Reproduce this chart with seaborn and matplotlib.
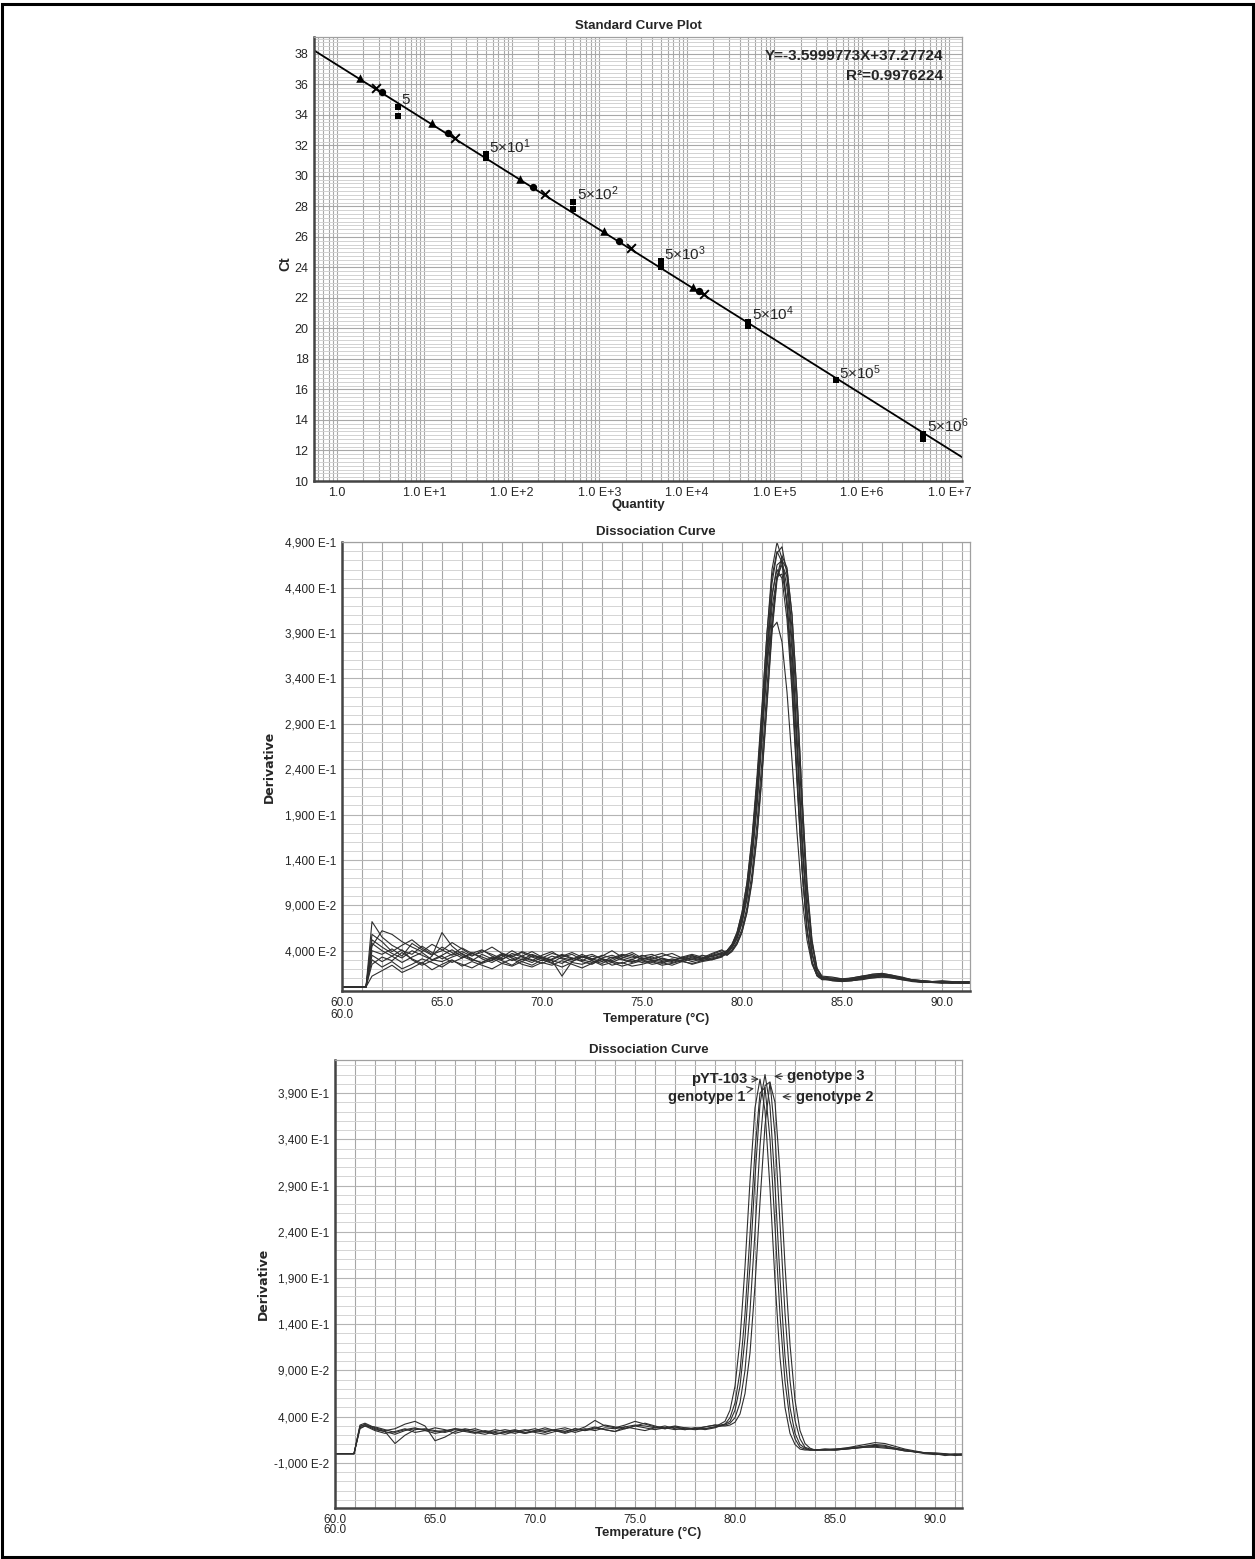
import numpy as np
import pandas as pd
import matplotlib
matplotlib.use("Agg")
import matplotlib.pyplot as plt
import seaborn as sns
from matplotlib.ticker import FixedLocator, FixedFormatter, MultipleLocator, LogLocator, NullFormatter
from matplotlib.patches import Rectangle

# ---------------- standard curve ----------------
std_qty = [5, 5, 50, 50, 500, 500, 5e3, 5e3, 5e4, 5e4, 5e5, 5e6, 5e6]
std_ct = [34.5, 33.9, 31.4, 31.15, 28.3, 27.8, 24.4, 24.0, 20.45, 20.15, 16.6, 13.1, 12.75]
std_label_qty = [5, 50, 500, 5e3, 5e4, 5e5, 5e6]
std_label_ct = [34.5, 31.4, 28.3, 24.4, 20.45, 16.6, 13.1]
std_labels = ['5', '5×10$^{1}$', '5×10$^{2}$', '5×10$^{3}$', '5×10$^{4}$', '5×10$^{5}$', '5×10$^{6}$']

tri_qty = [1.83, 12.3, 124, 1135, 11600]
tri_ct = [36.42, 33.44, 29.81, 26.37, 22.71]
circ_qty = [3.30, 18.4, 175, 1683, 13700]
circ_ct = [35.5, 32.8, 29.27, 25.73, 22.45]
cross_qty = [2.77, 22.3, 240, 2275, 15670]
cross_ct = [35.74, 32.5, 28.79, 25.27, 22.27]

fit_slope = -3.5999773
fit_intercept = 37.27724
fit_r2 = 0.9976224

qty_ticks = [1, 10, 100, 1e3, 1e4, 1e5, 1e6, 1e7]
qty_tick_labels = ['1.0', '1.0 E+1', '1.0 E+2', '1.0 E+3', '1.0 E+4', '1.0 E+5', '1.0 E+6', '1.0 E+7']

# ---------------- melt curves ----------------
temp_ticks = [60, 65, 70, 75, 80, 85, 90]
temp_tick_labels = ['60.0', '65.0', '70.0', '75.0', '80.0', '85.0', '90.0']
deriv1_ticks = [0.49, 0.44, 0.39, 0.34, 0.29, 0.24, 0.19, 0.14, 0.09, 0.04]
deriv1_labels = ['4,900 E-1', '4,400 E-1', '3,900 E-1', '3,400 E-1', '2,900 E-1',
                 '2,400 E-1', '1,900 E-1', '1,400 E-1', '9,000 E-2', '4,000 E-2']
deriv2_ticks = [0.39, 0.34, 0.29, 0.24, 0.19, 0.14, 0.09, 0.04, -0.01]
deriv2_labels = ['3,900 E-1', '3,400 E-1', '2,900 E-1', '2,400 E-1', '1,900 E-1',
                 '1,400 E-1', '9,000 E-2', '4,000 E-2', '-1,000 E-2']

# instrument temperature steps
base_temps = list(np.arange(61.5, 79.01, 0.5))
peak_temps = list(np.arange(79.25, 84.01, 0.25))
tail_temps = list(np.arange(84.5, 91.51, 0.5))
run1_temps = [60.0, 61.2] + base_temps + peak_temps + tail_temps
run2_temps = [60.0, 60.95, 61.25] + base_temps + peak_temps + tail_temps

# run 1 : all standards
well_a1 = [0.0, 0.0,
           0.072, 0.055, 0.046, 0.040, 0.036, 0.045, 0.038, 0.031, 0.036, 0.043, 0.037, 0.033,
           0.029, 0.036, 0.032, 0.028, 0.034, 0.031, 0.027, 0.033, 0.036, 0.030, 0.027, 0.032,
           0.035, 0.031, 0.028, 0.030, 0.033, 0.029, 0.027, 0.030, 0.032, 0.030, 0.034, 0.036,
           0.038, 0.044, 0.054, 0.072, 0.100, 0.145, 0.205, 0.280, 0.360, 0.430,
           0.465, 0.470, 0.440, 0.370, 0.270, 0.165, 0.085, 0.038, 0.016, 0.010,
           0.008, 0.007, 0.008, 0.010, 0.012, 0.013, 0.011, 0.009, 0.007, 0.006, 0.006, 0.005, 0.006, 0.005, 0.005]
well_a2 = [0.0, 0.0,
           0.045, 0.062, 0.058, 0.050, 0.044, 0.039, 0.047, 0.041, 0.035, 0.039, 0.034, 0.040,
           0.036, 0.031, 0.035, 0.038, 0.033, 0.029, 0.034, 0.031, 0.028, 0.033, 0.036, 0.031,
           0.029, 0.034, 0.038, 0.032, 0.029, 0.031, 0.028, 0.033, 0.030, 0.035, 0.033, 0.038,
           0.040, 0.047, 0.060, 0.082, 0.115, 0.165, 0.232, 0.310, 0.390, 0.452,
           0.480, 0.468, 0.420, 0.340, 0.235, 0.135, 0.065, 0.028, 0.013, 0.009,
           0.009, 0.008, 0.009, 0.011, 0.014, 0.015, 0.013, 0.010, 0.008, 0.007, 0.006, 0.006, 0.005, 0.006, 0.006]
well_a3 = [0.0, 0.0,
           0.030, 0.022, 0.028, 0.020, 0.025, 0.031, 0.027, 0.022, 0.029, 0.025, 0.021, 0.027,
           0.032, 0.026, 0.023, 0.028, 0.024, 0.030, 0.026, 0.022, 0.027, 0.025, 0.029, 0.024,
           0.027, 0.023, 0.026, 0.029, 0.025, 0.027, 0.024, 0.028, 0.026, 0.029, 0.031, 0.034,
           0.036, 0.041, 0.050, 0.064, 0.088, 0.126, 0.180, 0.250, 0.330, 0.405,
           0.452, 0.465, 0.452, 0.395, 0.300, 0.192, 0.100, 0.046, 0.019, 0.011,
           0.007, 0.006, 0.007, 0.009, 0.010, 0.011, 0.010, 0.008, 0.006, 0.005, 0.005, 0.004, 0.005, 0.004, 0.004]
well_a4 = [0.0, 0.0,
           0.040, 0.036, 0.042, 0.034, 0.048, 0.041, 0.035, 0.044, 0.038, 0.032, 0.037, 0.041,
           0.034, 0.030, 0.037, 0.033, 0.029, 0.035, 0.039, 0.032, 0.030, 0.036, 0.031, 0.034,
           0.040, 0.033, 0.030, 0.035, 0.031, 0.034, 0.037, 0.032, 0.035, 0.031, 0.036, 0.040,
           0.039, 0.046, 0.058, 0.078, 0.110, 0.158, 0.225, 0.305, 0.390, 0.460,
           0.490, 0.472, 0.420, 0.335, 0.230, 0.130, 0.062, 0.027, 0.012, 0.008,
           0.008, 0.008, 0.010, 0.012, 0.013, 0.012, 0.010, 0.008, 0.007, 0.006, 0.005, 0.005, 0.004, 0.005, 0.004]
well_a5 = [0.0, 0.0,
           0.012, 0.018, 0.024, 0.016, 0.021, 0.027, 0.019, 0.025, 0.030, 0.023, 0.028, 0.024,
           0.020, 0.026, 0.031, 0.025, 0.022, 0.027, 0.024, 0.029, 0.025, 0.021, 0.026, 0.030,
           0.024, 0.027, 0.023, 0.025, 0.028, 0.024, 0.026, 0.029, 0.025, 0.028, 0.030, 0.033,
           0.040, 0.047, 0.060, 0.082, 0.115, 0.162, 0.225, 0.295, 0.360, 0.395,
           0.402, 0.380, 0.325, 0.250, 0.170, 0.100, 0.052, 0.025, 0.013, 0.009,
           0.007, 0.006, 0.007, 0.008, 0.010, 0.011, 0.011, 0.009, 0.007, 0.006, 0.005, 0.005, 0.005, 0.004, 0.005]
well_a6 = [0.0, 0.0,
           0.058, 0.050, 0.039, 0.046, 0.052, 0.043, 0.036, 0.040, 0.049, 0.042, 0.035, 0.038,
           0.044, 0.037, 0.033, 0.039, 0.035, 0.032, 0.037, 0.034, 0.038, 0.033, 0.030, 0.035,
           0.032, 0.036, 0.034, 0.031, 0.034, 0.037, 0.033, 0.031, 0.034, 0.032, 0.037, 0.041,
           0.035, 0.040, 0.048, 0.061, 0.083, 0.118, 0.168, 0.235, 0.315, 0.395,
           0.452, 0.475, 0.462, 0.410, 0.320, 0.210, 0.110, 0.050, 0.020, 0.011,
           0.010, 0.009, 0.009, 0.010, 0.012, 0.014, 0.012, 0.010, 0.008, 0.007, 0.006, 0.007, 0.006, 0.006, 0.005]
well_a7 = [0.0, 0.0,
           0.025, 0.033, 0.029, 0.038, 0.031, 0.026, 0.034, 0.060, 0.045, 0.036, 0.030, 0.027,
           0.033, 0.029, 0.024, 0.031, 0.027, 0.033, 0.029, 0.026, 0.032, 0.028, 0.025, 0.031,
           0.028, 0.026, 0.030, 0.027, 0.029, 0.026, 0.030, 0.028, 0.031, 0.029, 0.032, 0.035,
           0.037, 0.043, 0.053, 0.070, 0.097, 0.140, 0.198, 0.272, 0.350, 0.418,
           0.452, 0.455, 0.425, 0.355, 0.260, 0.158, 0.080, 0.036, 0.015, 0.009,
           0.008, 0.007, 0.008, 0.011, 0.013, 0.014, 0.012, 0.009, 0.007, 0.005, 0.006, 0.005, 0.004, 0.005, 0.004]
well_a8 = [0.0, 0.0,
           0.048, 0.040, 0.034, 0.027, 0.033, 0.038, 0.030, 0.035, 0.041, 0.034, 0.029, 0.036,
           0.031, 0.037, 0.034, 0.030, 0.036, 0.032, 0.029, 0.012, 0.028, 0.034, 0.031, 0.028,
           0.033, 0.030, 0.027, 0.032, 0.030, 0.028, 0.031, 0.029, 0.033, 0.031, 0.034, 0.037,
           0.038, 0.045, 0.056, 0.075, 0.105, 0.152, 0.215, 0.293, 0.375, 0.445,
           0.478, 0.485, 0.455, 0.380, 0.275, 0.165, 0.083, 0.037, 0.016, 0.010,
           0.009, 0.008, 0.008, 0.009, 0.011, 0.012, 0.011, 0.009, 0.008, 0.006, 0.006, 0.005, 0.005, 0.005, 0.004]
well_a9 = [0.0, 0.0,
           0.035, 0.028, 0.034, 0.041, 0.030, 0.024, 0.029, 0.034, 0.027, 0.032, 0.038, 0.031,
           0.027, 0.033, 0.040, 0.034, 0.030, 0.026, 0.031, 0.036, 0.032, 0.029, 0.034, 0.031,
           0.027, 0.032, 0.036, 0.030, 0.027, 0.032, 0.029, 0.032, 0.028, 0.031, 0.035, 0.038,
           0.035, 0.039, 0.047, 0.060, 0.082, 0.115, 0.165, 0.232, 0.310, 0.390,
           0.448, 0.470, 0.460, 0.410, 0.322, 0.212, 0.115, 0.052, 0.021, 0.012,
           0.011, 0.009, 0.010, 0.012, 0.014, 0.015, 0.013, 0.011, 0.008, 0.007, 0.006, 0.006, 0.006, 0.005, 0.006]
well_a10 = [0.0, 0.0,
            0.052, 0.044, 0.037, 0.032, 0.040, 0.035, 0.030, 0.028, 0.033, 0.037, 0.031, 0.026,
            0.030, 0.035, 0.029, 0.034, 0.039, 0.033, 0.030, 0.035, 0.031, 0.034, 0.029, 0.026,
            0.031, 0.035, 0.032, 0.034, 0.036, 0.031, 0.029, 0.033, 0.036, 0.033, 0.030, 0.034,
            0.040, 0.046, 0.057, 0.076, 0.106, 0.152, 0.214, 0.290, 0.370, 0.432,
            0.460, 0.450, 0.405, 0.325, 0.225, 0.130, 0.063, 0.028, 0.013, 0.009,
            0.008, 0.007, 0.007, 0.009, 0.011, 0.013, 0.012, 0.010, 0.007, 0.006, 0.005, 0.006, 0.005, 0.004, 0.005]

# run 2 : plasmid and genotypes
well_b1 = [0.0, 0.0,
           0.030, 0.031, 0.026, 0.024, 0.021, 0.025, 0.027, 0.026, 0.024, 0.025, 0.027, 0.026, 0.023,
           0.024, 0.021, 0.023, 0.025, 0.022, 0.024, 0.026, 0.025, 0.022, 0.025, 0.027, 0.025, 0.028,
           0.027, 0.029, 0.031, 0.030, 0.028, 0.027, 0.029, 0.027, 0.026, 0.027, 0.029,
           0.032, 0.035, 0.047, 0.073, 0.123, 0.202, 0.295, 0.374, 0.405, 0.371,
           0.287, 0.187, 0.104, 0.050, 0.022, 0.010, 0.005, 0.004, 0.004, 0.004,
           0.004, 0.004, 0.005, 0.006, 0.007, 0.008, 0.007, 0.005, 0.003, 0.002, 0.001, 0.000, -0.001, 0.000, -0.001]
well_b2 = [0.0, 0.0,
           0.029, 0.032, 0.027, 0.024, 0.011, 0.020, 0.026, 0.027, 0.025, 0.023, 0.026, 0.024, 0.022,
           0.025, 0.023, 0.021, 0.024, 0.026, 0.023, 0.021, 0.024, 0.026, 0.023, 0.026, 0.029, 0.026,
           0.024, 0.027, 0.030, 0.028, 0.026, 0.028, 0.026, 0.028, 0.027, 0.029, 0.031,
           0.031, 0.032, 0.039, 0.055, 0.089, 0.151, 0.237, 0.328, 0.390, 0.396,
           0.340, 0.246, 0.150, 0.078, 0.036, 0.016, 0.007, 0.005, 0.004, 0.004,
           0.005, 0.004, 0.005, 0.006, 0.008, 0.010, 0.009, 0.006, 0.004, 0.002, 0.001, 0.001, 0.000, -0.001, 0.000]
well_b3 = [0.0, 0.0,
           0.031, 0.033, 0.028, 0.025, 0.027, 0.032, 0.035, 0.030, 0.014, 0.018, 0.024, 0.027, 0.025,
           0.023, 0.026, 0.024, 0.022, 0.025, 0.027, 0.024, 0.026, 0.028, 0.025, 0.029, 0.036, 0.030,
           0.028, 0.031, 0.035, 0.032, 0.029, 0.028, 0.030, 0.028, 0.027, 0.029, 0.031,
           0.030, 0.032, 0.035, 0.047, 0.073, 0.125, 0.204, 0.299, 0.378, 0.410,
           0.376, 0.291, 0.190, 0.105, 0.050, 0.022, 0.010, 0.006, 0.004, 0.004,
           0.004, 0.005, 0.006, 0.008, 0.010, 0.012, 0.011, 0.008, 0.005, 0.003, 0.001, 0.000, -0.001, -0.001, 0.000]
well_b4 = [0.0, 0.0,
           0.028, 0.030, 0.025, 0.022, 0.024, 0.027, 0.023, 0.025, 0.028, 0.026, 0.022, 0.025, 0.027,
           0.024, 0.021, 0.024, 0.026, 0.023, 0.025, 0.028, 0.025, 0.023, 0.027, 0.025, 0.028, 0.026,
           0.024, 0.029, 0.027, 0.025, 0.028, 0.030, 0.027, 0.026, 0.028, 0.027, 0.029,
           0.030, 0.031, 0.033, 0.039, 0.055, 0.090, 0.154, 0.240, 0.333, 0.398,
           0.402, 0.344, 0.249, 0.152, 0.079, 0.036, 0.016, 0.007, 0.005, 0.004,
           0.005, 0.005, 0.006, 0.007, 0.008, 0.009, 0.008, 0.006, 0.004, 0.002, 0.000, -0.001, 0.000, -0.002, -0.001]
well_b5 = [0.0, 0.0,
           0.027, 0.030, 0.029, 0.026, 0.023, 0.026, 0.028, 0.025, 0.022, 0.024, 0.027, 0.025, 0.023,
           0.021, 0.024, 0.026, 0.024, 0.022, 0.025, 0.023, 0.026, 0.024, 0.027, 0.025, 0.027, 0.031,
           0.029, 0.027, 0.030, 0.033, 0.030, 0.027, 0.029, 0.026, 0.028, 0.026, 0.028,
           0.030, 0.030, 0.031, 0.034, 0.043, 0.065, 0.109, 0.182, 0.272, 0.355,
           0.401, 0.380, 0.304, 0.204, 0.118, 0.058, 0.025, 0.011, 0.006, 0.004,
           0.004, 0.004, 0.005, 0.006, 0.007, 0.007, 0.006, 0.005, 0.003, 0.002, 0.001, 0.000, -0.002, -0.001, -0.002]

run1_wells = {'A1': well_a1, 'A2': well_a2, 'A3': well_a3, 'A4': well_a4, 'A5': well_a5,
              'A6': well_a6, 'A7': well_a7, 'A8': well_a8, 'A9': well_a9, 'A10': well_a10}
run2_wells = {'pYT-103': well_b3, 'genotype 1': well_b2, 'genotype 3': well_b4,
              'genotype 2': well_b5, 'B1': well_b1}

W, H = 1255, 1559


def melt_frame(temps, wells):
    rows = []
    for name, values in wells.items():
        for t, v in zip(temps, values):
            rows.append((name, t, v))
    return pd.DataFrame(rows, columns=['well', 'temp', 'deriv'])


def px_axes(fig, left, top, right, bottom):
    return fig.add_axes([left / W, 1 - bottom / H, (right - left) / W, (bottom - top) / H])


def style_spines(ax):
    for side in ['left', 'bottom']:
        ax.spines[side].set_color('#444444')
        ax.spines[side].set_linewidth(1.8)
    for side in ['top', 'right']:
        ax.spines[side].set_color('#a0a0a0')
        ax.spines[side].set_linewidth(0.9)


def standard_curve(ax):
    ax.set_xscale('log')
    ax.set_xlim(0.546, 1.39e7)
    ax.set_ylim(10, 39.1)
    ax.set_axisbelow(True)

    fit_x = np.array(ax.get_xlim())
    sns.lineplot(x=fit_x, y=fit_slope * np.log10(fit_x) + fit_intercept,
                 color='black', linewidth=1.3, ax=ax)
    sns.scatterplot(x=std_qty, y=std_ct, marker='s', s=16, color='black', linewidth=0, ax=ax)
    sns.scatterplot(x=tri_qty, y=tri_ct, marker='^', s=38, color='black', linewidth=0, ax=ax)
    sns.scatterplot(x=circ_qty, y=circ_ct, marker='o', s=28, color='black', linewidth=0, ax=ax)
    sns.scatterplot(x=cross_qty, y=cross_ct, marker='x', s=40, color='black', linewidth=1.4, ax=ax)

    for q, c, lab in zip(std_label_qty, std_label_ct, std_labels):
        ax.annotate(lab, xy=(q, c), xytext=(2.5, 5.5), textcoords='offset points',
                    ha='left', va='center', fontsize=11)

    ax.text(0.971, 0.957, f'Y={fit_slope}X+{fit_intercept}', transform=ax.transAxes,
            ha='right', va='center', fontsize=11, fontweight='bold')
    ax.text(0.971, 0.912, f'R²={fit_r2}', transform=ax.transAxes,
            ha='right', va='center', fontsize=11, fontweight='bold')

    ax.xaxis.set_major_locator(FixedLocator(qty_ticks))
    ax.xaxis.set_major_formatter(FixedFormatter(qty_tick_labels))
    ax.xaxis.set_minor_locator(LogLocator(base=10, subs=np.arange(2, 10), numticks=30))
    ax.xaxis.set_minor_formatter(NullFormatter())
    ax.yaxis.set_major_locator(MultipleLocator(2))
    ax.yaxis.set_minor_locator(MultipleLocator(0.25))

    ax.grid(which='both', axis='x', color='#a8a8a8', linewidth=0.8)
    ax.grid(which='major', axis='y', color='#a8a8a8', linewidth=0.8)
    ax.grid(which='minor', axis='y', color='#d2d2d2', linewidth=0.7)
    ax.tick_params(which='both', direction='out', length=2.5, width=0.8, color='#777777',
                   labelsize=9, pad=1.5)
    ax.tick_params(axis='x', which='minor', length=0)

    ax.set_title('Standard Curve Plot', fontsize=9.5, fontweight='bold', pad=6)
    ax.set_xlabel('Quantity', fontsize=9.5, fontweight='bold')
    ax.xaxis.set_label_coords(0.5, -0.041)
    ax.set_ylabel('Ct', fontsize=10, fontweight='bold')
    ax.yaxis.set_label_coords(-0.034, 0.49)
    style_spines(ax)


def melt_curve(ax, temps, wells, ylim, yticks, ylabels, xmax, lab_y, second_y, ylab_x):
    df = melt_frame(temps, wells)
    sns.lineplot(data=df, x='temp', y='deriv', units='well', estimator=None,
                 color='#2e2e2e', linewidth=0.8, legend=False, ax=ax)
    ax.set_xlim(60, xmax)
    ax.set_ylim(*ylim)
    ax.set_axisbelow(True)

    ax.xaxis.set_major_locator(FixedLocator(temp_ticks))
    ax.xaxis.set_major_formatter(FixedFormatter(temp_tick_labels))
    ax.xaxis.set_minor_locator(MultipleLocator(1))
    ax.yaxis.set_major_locator(FixedLocator(yticks))
    ax.yaxis.set_major_formatter(FixedFormatter(ylabels))
    ax.yaxis.set_minor_locator(MultipleLocator(0.01))

    ax.grid(which='both', axis='x', color='#a6a6a6', linewidth=0.8)
    ax.grid(which='major', axis='y', color='#b4b4b4', linewidth=0.8)
    ax.grid(which='minor', axis='y', color='#d4d4d4', linewidth=0.7)
    ax.tick_params(which='both', direction='out', length=2.5, width=0.8, color='#777777',
                   labelsize=8.5, pad=1.5)
    ax.tick_params(axis='x', which='minor', length=0)

    ax.text(60, second_y, '60.0', transform=ax.get_xaxis_transform(), ha='center', va='top',
            fontsize=8.5)
    ax.set_title('Dissociation Curve', fontsize=9.5, fontweight='bold', pad=5)
    ax.set_xlabel('Temperature (°C)', fontsize=9.5, fontweight='bold')
    ax.xaxis.set_label_coords(0.5, lab_y)
    ax.set_ylabel('Derivative', fontsize=9, fontweight='bold', family=['DejaVu Sans'])
    ax.yaxis.set_label_coords(ylab_x, 0.5)
    style_spines(ax)


if __name__ == '__main__':
    sns.set_style('white')
    plt.rcParams['font.family'] = ['Liberation Sans', 'DejaVu Sans']
    plt.rcParams['mathtext.fontset'] = 'custom'
    plt.rcParams['mathtext.rm'] = 'Liberation Sans'
    plt.rcParams['mathtext.it'] = 'Liberation Sans:italic'
    plt.rcParams['mathtext.bf'] = 'Liberation Sans:bold'

    fig = plt.figure(figsize=(W / 100, H / 100), dpi=100)
    fig.patch.set_facecolor('white')

    ax1 = px_axes(fig, 314, 37, 962, 481)
    standard_curve(ax1)

    ax2 = px_axes(fig, 342, 542, 970, 991)
    melt_curve(ax2, run1_temps, run1_wells, (-0.0044, 0.4903), deriv1_ticks, deriv1_labels,
               91.4, -0.050, -0.040, -0.105)

    ax3 = px_axes(fig, 335, 1060, 962, 1508)
    melt_curve(ax3, run2_temps, run2_wells, (-0.0587, 0.4257), deriv2_ticks, deriv2_labels,
               91.35, -0.042, -0.036, -0.104)

    # peak labels on the second run
    arrow = dict(arrowstyle='->', lw=0.8, color='#333333', shrinkA=1, shrinkB=0)
    ax3.annotate('pYT-103', xy=(81.2, 0.405), xytext=(80.6, 0.405), ha='right', va='center',
                 fontsize=10.5, fontweight='bold', arrowprops=arrow)
    ax3.annotate('genotype 3', xy=(81.95, 0.408), xytext=(82.6, 0.408), ha='left', va='center',
                 fontsize=10.5, fontweight='bold', arrowprops=arrow)
    ax3.annotate('genotype 1', xy=(80.95, 0.395), xytext=(80.53, 0.386), ha='right', va='center',
                 fontsize=10.5, fontweight='bold', arrowprops=arrow)
    ax3.annotate('genotype 2', xy=(82.35, 0.386), xytext=(83.03, 0.386), ha='left', va='center',
                 fontsize=10.5, fontweight='bold', arrowprops=arrow)

    fig.add_artist(Rectangle((0.0015, 0.0015), 0.997, 0.996, transform=fig.transFigure,
                             fill=False, linewidth=2.2, edgecolor='black'))

    fig.savefig('out.png', dpi=100, facecolor='white')
